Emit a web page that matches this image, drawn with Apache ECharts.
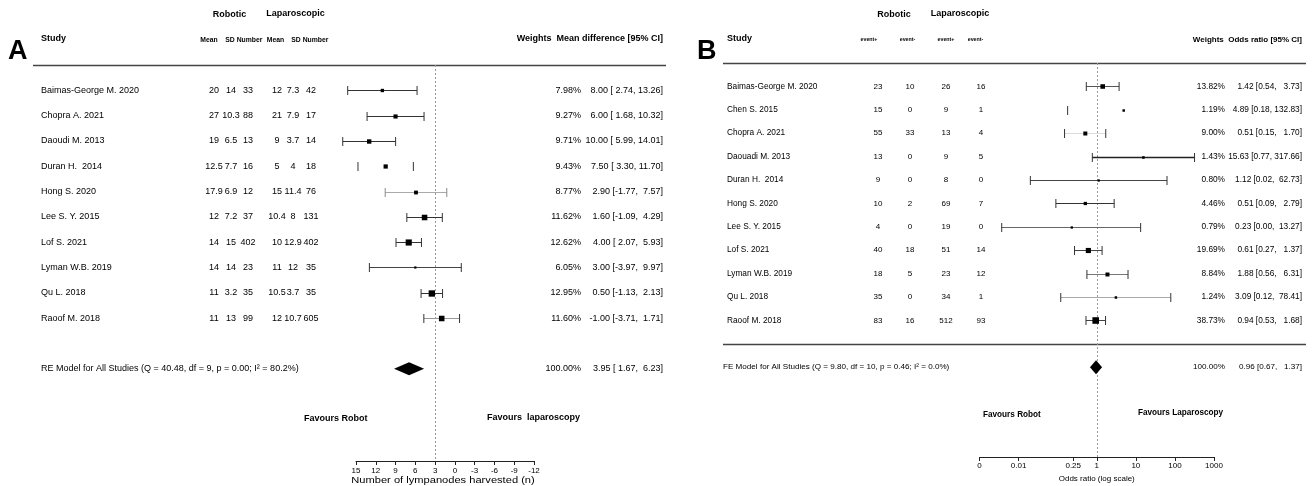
<!DOCTYPE html>
<html>
<head>
<meta charset="utf-8">
<script src="https://cdn.jsdelivr.net/npm/echarts@6/dist/echarts.min.js"></script>
<style>
  html, body { margin: 0; padding: 0; background: #fff; }
  #c { width: 1314px; height: 486px; }
</style>
</head>
<body>
<div id="c"></div>
<script>
// ---------- Panel A: lymph nodes harvested (mean difference, RE model) ----------
const studiesA = ['Baimas-George M. 2020', 'Chopra A. 2021', 'Daoudi M. 2013', 'Duran H.  2014', 'Hong S. 2020',
  'Lee S. Y. 2015', 'Lof S. 2021', 'Lyman W.B. 2019', 'Qu L. 2018', 'Raoof M. 2018'];
const robMeanA = ['20', '27', '19', '12.5', '17.9', '12', '14', '14', '11', '11'];
const robSdA   = ['14', '10.3', '6.5', '7.7', '6.9', '7.2', '15', '14', '3.2', '13'];
const robNA    = ['33', '88', '13', '16', '12', '37', '402', '23', '35', '99'];
const lapMeanA = ['12', '21', '9', '5', '15', '10.4', '10', '11', '10.5', '12'];
const lapSdA   = ['7.3', '7.9', '3.7', '4', '11.4', '8', '12.9', '12', '3.7', '10.7'];
const lapNA    = ['42', '17', '14', '18', '76', '131', '402', '35', '35', '605'];
const weightA  = [7.98, 9.27, 9.71, 9.43, 8.77, 11.62, 12.62, 6.05, 12.95, 11.60];
const mdA      = [8.00, 6.00, 10.00, 7.50, 2.90, 1.60, 4.00, 3.00, 0.50, -1.00];
const mdLowA   = [2.74, 1.68, 5.99, 3.30, -1.77, -1.09, 2.07, -3.97, -1.13, -3.71];
const mdHighA  = [13.26, 10.32, 14.01, 11.70, 7.57, 4.29, 5.93, 9.97, 2.13, 1.71];
const pooledA  = [3.95, 1.67, 6.23];          // estimate, lower, upper
const tickLabelsA = ['-12', '-9', '-6', '-3', '0', '3', '6', '9', '12', '15'];

// ---------- Panel B: odds ratio (FE model) ----------
const studiesB = ['Baimas-George M. 2020', 'Chen S. 2015', 'Chopra A. 2021', 'Daouadi M. 2013', 'Duran H.  2014',
  'Hong S. 2020', 'Lee S. Y. 2015', 'Lof S. 2021', 'Lyman W.B. 2019', 'Qu L. 2018', 'Raoof M. 2018'];
const robPosB = ['23', '15', '55', '13', '9', '10', '4', '40', '18', '35', '83'];
const robNegB = ['10', '0', '33', '0', '0', '2', '0', '18', '5', '0', '16'];
const lapPosB = ['26', '9', '13', '9', '8', '69', '19', '51', '23', '34', '512'];
const lapNegB = ['16', '1', '4', '5', '0', '7', '0', '14', '12', '1', '93'];
const weightB = [13.82, 1.19, 9.00, 1.43, 0.80, 4.46, 0.79, 19.69, 8.84, 1.24, 38.73];
const orB     = [1.42, 4.89, 0.51, 15.63, 1.12, 0.51, 0.23, 0.61, 1.88, 3.09, 0.94];
const orLowB  = [0.54, 0.18, 0.15, 0.77, 0.02, 0.09, 0.0037, 0.27, 0.56, 0.12, 0.53];
const orHighB = [3.73, 132.83, 1.70, 317.66, 62.73, 2.79, 13.27, 1.37, 6.31, 78.41, 1.68];
const pooledB = [0.96, 0.67, 1.37];
const tickValuesB = [0.001, 0.01, 0.25, 1, 10, 100, 1000];
const tickLabelsB = ['0', '0.01', '0.25', '1', '10', '100', '1000'];

// ---------- drawing styles ----------
const FONT = '"Liberation Sans", Arial, Helvetica, sans-serif';
const font = (size, bold) => (bold ? 'bold ' : '') + size + 'px ' + FONT;
const ciStyleA = [
  { line: '#333' }, { line: '#333' }, { line: '#333' }, { line: null }, { line: '#aaa', cap: '#888' },
  { line: '#333' }, { line: '#333' }, { line: '#444' }, { line: '#333' }, { line: '#999' }
];
const ciStyleB = [
  { line: '#555' }, { line: null, rightCap: false }, { line: '#ddd' }, { line: '#222', width: 1.4 }, { line: '#444' },
  { line: '#333' }, { line: '#666' }, { line: '#444' }, { line: '#777' }, { line: '#aaa' }, { line: '#444' }
];
const sizeA = w => 2.2 + (w - 6.05) * 0.6;
const sizeB = w => 1.6 + 0.8 * Math.sqrt(w);

function txt(text, x, y, size, opt) {
  opt = opt || {};
  const a = opt.align || 'left';
  return {
    type: 'text', silent: true,
    style: {
      text: text, x: x, y: y, fill: '#000', font: font(size, opt.bold),
      textAlign: a, align: a, textVerticalAlign: 'middle', verticalAlign: 'middle'
    }
  };
}
function hline(x1, x2, y, color, width) {
  return { type: 'line', silent: true, shape: { x1: x1, y1: y, x2: x2, y2: y },
    style: { stroke: color || '#444', lineWidth: width || 1 } };
}
function padCol(values) {
  const s = values.map(v => v.toFixed(2));
  const w = Math.max.apply(null, s.map(x => x.length));
  return s.map(x => x.padStart(w, ' '));
}
function ciText(est, lo, hi, pooled) {
  const e = padCol(est.concat([pooled[0]]));
  const l = padCol(lo.concat([pooled[1]]));
  const h = padCol(hi.concat([pooled[2]]));
  return e.map((_, i) => e[i] + ' [' + l[i] + ', ' + h[i] + ']');
}
const ciTextA = ciText(mdA, mdLowA, mdHighA, pooledA);
const ciTextB = ciText(orB, orLowB, orHighB, pooledB);

// confidence intervals with weighted squares
function ciRenderer(styles, sizeFn, capHalf) {
  return function (params, api) {
    const i = api.value(0);
    const pe = api.coord([api.value(1), i]);
    const pl = api.coord([api.value(2), i]);
    const ph = api.coord([api.value(3), i]);
    const y = Math.round(pe[1]) + 0.5;
    const st = styles[i];
    const ch = [];
    if (st.line) {
      ch.push({ type: 'line', shape: { x1: pl[0], y1: y, x2: ph[0], y2: y },
        style: { stroke: st.line, lineWidth: st.width || 1 } });
    }
    const capColor = st.cap || '#333';
    ch.push({ type: 'line', shape: { x1: pl[0], y1: y - capHalf, x2: pl[0], y2: y + capHalf },
      style: { stroke: capColor, lineWidth: 1 } });
    if (st.rightCap !== false) {
      ch.push({ type: 'line', shape: { x1: ph[0], y1: y - capHalf, x2: ph[0], y2: y + capHalf },
        style: { stroke: capColor, lineWidth: 1 } });
    }
    const s = sizeFn(api.value(4));
    ch.push({ type: 'rect', shape: { x: pe[0] - s / 2, y: y - s / 2, width: s, height: s }, style: { fill: '#000' } });
    return { type: 'group', children: ch };
  };
}

// pooled estimate diamond plus its row text
function summaryRenderer(label, x0, fontSize, weightX, ciX, ci, halfH) {
  return function (params, api) {
    const row = api.value(0);
    const pe = api.coord([api.value(1), row]);
    const pl = api.coord([api.value(2), row]);
    const ph = api.coord([api.value(3), row]);
    const y = pe[1];
    return {
      type: 'group',
      children: [
        { type: 'polygon', shape: { points: [[pl[0], y], [pe[0], y - halfH], [ph[0], y], [pe[0], y + halfH]] },
          style: { fill: '#000' } },
        txt(label, x0, y, fontSize),
        txt('100.00%', weightX, y, fontSize, { align: 'right' }),
        txt(ci, ciX, y, fontSize, { align: 'right' })
      ]
    };
  };
}

// vertical dashed reference line across the plotting rows
function refRenderer(xVal, yTop, yBottom) {
  return function (params, api) {
    const a = api.coord([xVal, yTop]);
    const b = api.coord([xVal, yBottom]);
    const x = Math.round(a[0]) + 0.5;
    return { type: 'line', shape: { x1: x, y1: a[1], x2: x, y2: b[1] },
      style: { stroke: '#999', lineWidth: 1, lineDash: [2, 2] } };
  };
}

const Y_MAX_A = 14.65, Y_MAX_B = 15.84;

const option = {
  animation: false,
  backgroundColor: '#fff',
  grid: [
    { left: 356, width: 178, top: 65, height: 396, outerBoundsMode: 'none', containLabel: false },
    { left: 979.5, width: 234.5, top: 63, height: 394, outerBoundsMode: 'none', containLabel: false }
  ],
  xAxis: [
    {
      gridIndex: 0, type: 'value', inverse: true, min: -15, max: 12, interval: 3,
      axisLine: { show: true, onZero: false, lineStyle: { color: '#222', width: 1 } },
      axisTick: { show: true, length: 4, lineStyle: { color: '#222' } },
      splitLine: { show: false },
      axisLabel: { margin: 6, fontSize: 8, color: '#000', fontFamily: FONT,
        formatter: v => tickLabelsA[Math.round((v + 15) / 3)] }
    },
    {
      gridIndex: 1, type: 'log', logBase: 10, min: 0.001, max: 1000,
      axisLine: { show: true, onZero: false, lineStyle: { color: '#222', width: 1 } },
      axisTick: { show: true, length: 4, customValues: tickValuesB, lineStyle: { color: '#222' } },
      minorTick: { show: false },
      splitLine: { show: false },
      axisLabel: { margin: 5, fontSize: 8, color: '#000', fontFamily: FONT, customValues: tickValuesB,
        formatter: v => {
          const k = tickValuesB.findIndex(t => Math.abs(Math.log10(t) - Math.log10(v)) < 1e-6);
          return k >= 0 ? tickLabelsB[k] : '';
        } },
      name: 'Odds ratio (log scale)', nameLocation: 'middle', nameGap: 14,
      nameTextStyle: { fontSize: 8, color: '#000', fontFamily: FONT }
    }
  ],
  yAxis: [
    { gridIndex: 0, type: 'value', inverse: true, min: -1, max: Y_MAX_A, show: false },
    { gridIndex: 1, type: 'value', inverse: true, min: -1, max: Y_MAX_B, show: false }
  ],
  series: [
    // reference lines
    { type: 'custom', xAxisIndex: 0, yAxisIndex: 0, z: 1, silent: true, clip: false,
      encode: { x: 1, y: 0 }, data: [[0, 0]], renderItem: refRenderer(0, -1, Y_MAX_A) },
    { type: 'custom', xAxisIndex: 1, yAxisIndex: 1, z: 1, silent: true, clip: false,
      encode: { x: 1, y: 0 }, data: [[0, 1]], renderItem: refRenderer(1, -1, Y_MAX_B) },

    // study intervals
    { type: 'custom', xAxisIndex: 0, yAxisIndex: 0, z: 3, silent: true, clip: false,
      encode: { x: 1, y: 0 },
      data: studiesA.map((_, i) => [i, mdA[i], mdLowA[i], mdHighA[i], weightA[i]]),
      renderItem: ciRenderer(ciStyleA, sizeA, 4.5) },
    { type: 'custom', xAxisIndex: 1, yAxisIndex: 1, z: 3, silent: true, clip: false,
      encode: { x: 1, y: 0 },
      data: studiesB.map((_, i) => [i, orB[i], orLowB[i], orHighB[i], weightB[i]]),
      renderItem: ciRenderer(ciStyleB, sizeB, 4.5) },

    // study tables
    { type: 'custom', xAxisIndex: 0, yAxisIndex: 0, z: 2, silent: true, clip: false,
      encode: { x: 1, y: 0 },
      data: studiesA.map((_, i) => [i, 0]),
      renderItem: function (params, api) {
        const i = api.value(0);
        const y = api.coord([0, i])[1];
        const cols = [robMeanA, robSdA, robNA, lapMeanA, lapSdA, lapNA];
        const xs = [214, 231, 248, 277, 293, 311];
        const ch = [txt(studiesA[i], 41, y, 9)];
        cols.forEach((c, k) => ch.push(txt(c[i], xs[k], y, 9, { align: 'center' })));
        ch.push(txt(weightA[i].toFixed(2) + '%', 581, y, 9, { align: 'right' }));
        ch.push(txt(ciTextA[i], 663, y, 9, { align: 'right' }));
        return { type: 'group', children: ch };
      } },
    { type: 'custom', xAxisIndex: 1, yAxisIndex: 1, z: 2, silent: true, clip: false,
      encode: { x: 1, y: 0 },
      data: studiesB.map((_, i) => [i, 1]),
      renderItem: function (params, api) {
        const i = api.value(0);
        const y = api.coord([1, i])[1];
        const cols = [robPosB, robNegB, lapPosB, lapNegB];
        const xs = [878, 910, 946, 981];
        const ch = [txt(studiesB[i], 727, y, 8.3)];
        cols.forEach((c, k) => ch.push(txt(c[i], xs[k], y, 8, { align: 'center' })));
        ch.push(txt(weightB[i].toFixed(2) + '%', 1225, y, 8.3, { align: 'right' }));
        ch.push(txt(ciTextB[i], 1302, y, 8.3, { align: 'right' }));
        return { type: 'group', children: ch };
      } },

    // pooled estimates
    { type: 'custom', xAxisIndex: 0, yAxisIndex: 0, z: 3, silent: true, clip: false,
      encode: { x: 1, y: 0 },
      data: [[11, pooledA[0], pooledA[1], pooledA[2]]],
      renderItem: summaryRenderer('RE Model for All Studies (Q = 40.48, df = 9, p = 0.00; I\u00B2 = 80.2%)',
        41, 9, 581, 663, ciTextA[ciTextA.length - 1], 6.5) },
    { type: 'custom', xAxisIndex: 1, yAxisIndex: 1, z: 3, silent: true, clip: false,
      encode: { x: 1, y: 0 },
      data: [[12, pooledB[0], pooledB[1], pooledB[2]]],
      renderItem: summaryRenderer('FE Model for All Studies (Q = 9.80, df = 10, p = 0.46; I\u00B2 = 0.0%)',
        723, 8.1, 1225, 1302, ciTextB[ciTextB.length - 1], 7) }
  ],
  graphic: [
    // panel A header
    txt('A', 8, 52, 27, { bold: true }),
    txt('Study', 41, 39, 9, { bold: true }),
    txt('Robotic', 229.5, 15, 9, { bold: true, align: 'center' }),
    txt('Laparoscopic', 295.5, 14, 9, { bold: true, align: 'center' }),
    txt('Mean', 209, 40, 6.8, { bold: true, align: 'center' }),
    txt('SD', 230, 40, 6.8, { bold: true, align: 'center' }),
    txt('Number', 249.5, 40, 6.8, { bold: true, align: 'center' }),
    txt('Mean', 275.5, 40, 6.8, { bold: true, align: 'center' }),
    txt('SD', 296, 40, 6.8, { bold: true, align: 'center' }),
    txt('Number', 315.5, 40, 6.8, { bold: true, align: 'center' }),
    txt('Weights  Mean difference [95% CI]', 663, 39, 9, { bold: true, align: 'right' }),
    hline(33, 666, 65.5, '#444', 1.3),
    txt('Favours Robot', 304, 419, 9, { bold: true }),
    txt('Favours  laparoscopy', 487, 418, 9, { bold: true }),
    // panel A x-axis title, drawn slightly widened
    {
      type: 'text', silent: true, x: 443, y: 480.5, scaleX: 1.17,
      style: { text: 'Number of lympanodes harvested (n)', x: 0, y: 0, fill: '#000',
        font: '9.5px "Liberation Sans", Arial, Helvetica, sans-serif',
        textAlign: 'center', align: 'center', textVerticalAlign: 'middle', verticalAlign: 'middle' }
    },

    // panel B header
    txt('B', 697, 52, 27, { bold: true }),
    txt('Study', 727, 39, 9, { bold: true }),
    txt('Robotic', 894, 15, 9, { bold: true, align: 'center' }),
    txt('Laparoscopic', 960, 14, 9, { bold: true, align: 'center' }),
    txt('event+', 869, 40, 5.3, { bold: true, align: 'center' }),
    txt('event-', 907.5, 40, 5.3, { bold: true, align: 'center' }),
    txt('event+', 946, 40, 5.3, { bold: true, align: 'center' }),
    txt('event-', 975.5, 40, 5.3, { bold: true, align: 'center' }),
    txt('Weights  Odds ratio [95% CI]', 1302, 40, 8, { bold: true, align: 'right' }),
    hline(723, 1306, 63.5, '#444', 1.3),
    hline(723, 1306, 344.5, '#444', 1.3),
    txt('Favours Robot', 983, 415, 8.2, { bold: true }),
    txt('Favours Laparoscopy', 1138, 413, 8.2, { bold: true })
  ]
};

const chart = echarts.init(document.getElementById('c'), null, { renderer: 'canvas', width: 1314, height: 486 });
chart.setOption(option);
</script>
</body>
</html>
